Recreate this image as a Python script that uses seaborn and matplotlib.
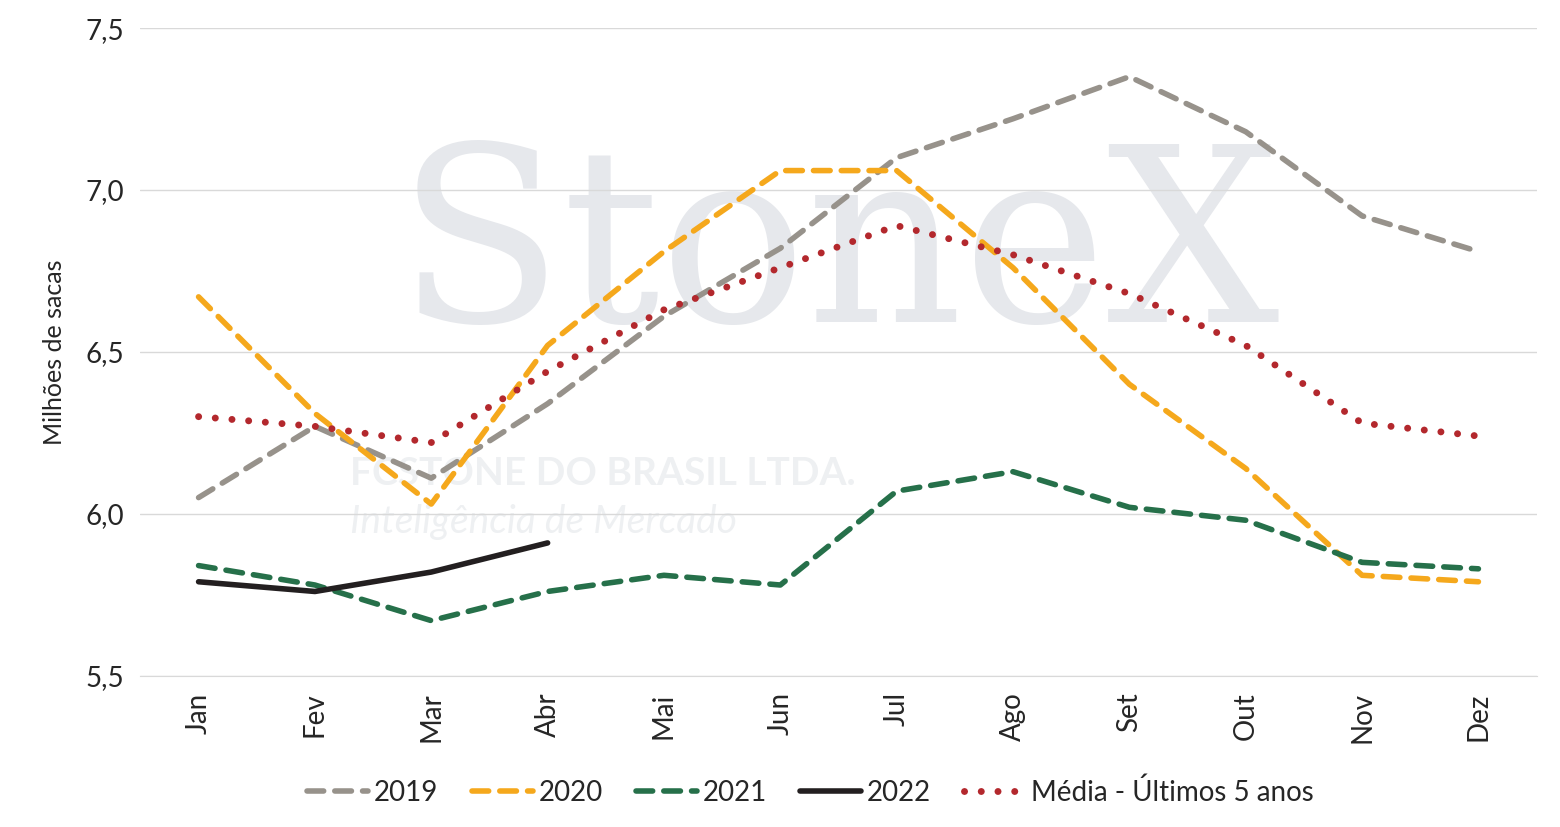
import pandas as pd
import matplotlib
matplotlib.use("Agg")
import matplotlib.pyplot as plt
import seaborn as sns

sns.set_style("white")
plt.rcParams['font.family'] = ['Lato', 'DejaVu Sans']

meses = ["Jan", "Fev", "Mar", "Abr", "Mai", "Jun", "Jul", "Ago", "Set", "Out", "Nov", "Dez"]
s2019 = [6.05, 6.27, 6.11, 6.34, 6.61, 6.82, 7.10, 7.22, 7.35, 7.18, 6.92, 6.81]
s2020 = [6.67, 6.31, 6.03, 6.52, 6.81, 7.06, 7.06, 6.76, 6.40, 6.14, 5.81, 5.79]
s2021 = [5.84, 5.78, 5.67, 5.76, 5.81, 5.78, 6.07, 6.13, 6.02, 5.98, 5.85, 5.83]
s2022 = [5.79, 5.76, 5.82, 5.91]
media = [6.30, 6.27, 6.22, 6.44, 6.63, 6.76, 6.89, 6.80, 6.68, 6.52, 6.28, 6.24]

fig, ax = plt.subplots(figsize=(15.6, 8.27), dpi=100)
fig.subplots_adjust(left=0.09, right=0.985, top=0.966, bottom=0.183)

# marca d'agua
ax.text(0.5, 0.65, "StoneX", transform=ax.transAxes, ha="center", va="center",
        fontsize=175, family="DejaVu Serif", color="#e6e8ec", zorder=0)
ax.text(0.15, 0.295, "FCSTONE DO BRASIL LTDA.", transform=ax.transAxes, fontsize=28,
        fontweight="bold", color="#eef0f2", zorder=0)
ax.text(0.15, 0.22, "Inteligência de Mercado", transform=ax.transAxes, fontsize=28,
        style="italic", color="#eef0f2", zorder=0)

x = list(range(12))
sns.lineplot(x=x, y=s2019, ax=ax, color="#97928b", lw=4, label="2019").lines[-1].set_dashes([3, 2])
sns.lineplot(x=x, y=s2020, ax=ax, color="#f5a81c", lw=4, label="2020").lines[-1].set_dashes([3, 2])
sns.lineplot(x=x, y=s2021, ax=ax, color="#26704a", lw=4, label="2021").lines[-1].set_dashes([3, 2])
sns.lineplot(x=x[:4], y=s2022, ax=ax, color="#231f20", lw=4, label="2022")
sns.lineplot(x=x, y=media, ax=ax, color="#b3282d", lw=5, label="Média - Últimos 5 anos").lines[-1].set_dashes([0.01, 2.4])
for l in ax.lines:
    l.set_dash_capstyle("round")

ax.set_xlim(-0.5, 11.5)
ax.set_ylim(5.5, 7.5)
ax.set_yticks([5.5, 6.0, 6.5, 7.0, 7.5])
ax.set_yticklabels(["5,5", "6,0", "6,5", "7,0", "7,5"], fontsize=20)
ax.set_xticks(x)
ax.set_xticklabels(meses, rotation=90, fontsize=20)
ax.set_ylabel("Milhões de sacas", fontsize=18, labelpad=14)
ax.set_xlabel("")
ax.grid(axis="y", color="#d9d9d9", lw=1)
for s in ["top", "right", "left"]:
    ax.spines[s].set_visible(False)
ax.spines["bottom"].set_color("#d9d9d9")
ax.tick_params(axis="both", length=0, pad=12)
ax.legend(loc="upper center", bbox_to_anchor=(0.48, -0.12), ncol=5, frameon=False,
          fontsize=20, handlelength=2.2, handletextpad=0.2, columnspacing=1.2)

fig.savefig("out.png")
